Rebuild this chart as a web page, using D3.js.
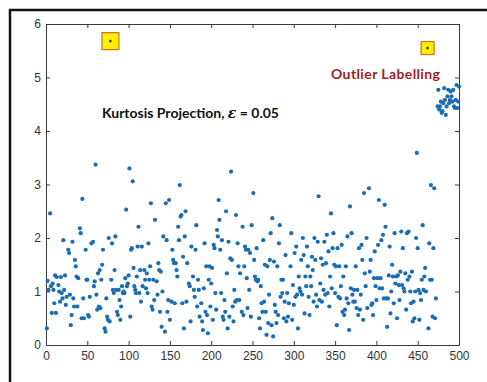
<!DOCTYPE html>
<html>
<head>
<meta charset="utf-8">
<script src="https://cdn.jsdelivr.net/npm/d3@7"></script>
<style>
  body { margin: 0; background: #fff; }
  svg { display: block; }
</style>
</head>
<body>
<script>
// values, [sample index, projection value]
const pts000 = [[1,0.31],[2,1.2],[3,1.03],[5,2.46],[6,1.1],[7,0.6],[8,1.15],[9,1.03],[10,0.78],[11,1.3],[12,0.6],[13,1.27],[15,1.12],[16,1.0],[17,0.81],[18,1.27],[19,0.97],[20,0.87],[21,1.96],[22,1.03],[23,1.3],[24,0.75],[25,0.9],[27,1.78],[28,1.72],[29,0.94],[30,0.37],[31,0.56],[32,1.93],[33,0.87],[34,0.72],[35,1.59],[36,1.47],[37,1.28],[38,0.72],[39,1.25],[41,2.18],[42,2.09],[43,0.5],[44,2.73],[45,0.87],[46,0.5],[48,1.78],[49,1.22]];
const pts050 = [[50,1.22],[51,0.56],[52,0.53],[53,0.9],[55,1.9],[57,1.93],[58,1.1],[59,1.19],[60,3.37],[61,0.94],[62,0.66],[63,1.34],[64,0.72],[65,1.4],[66,0.69],[67,1.22],[68,1.5],[69,1.78],[71,0.31],[72,0.25],[73,0.87],[74,0.53],[75,0.47],[76,2.0],[77,0.44],[79,1.22],[80,1.9],[81,1.03],[82,0.97],[83,1.4],[84,2.03],[85,1.03],[86,0.62],[87,0.56],[88,1.03],[89,0.84],[90,0.47],[91,0.72],[92,1.1],[93,0.97],[94,1.0],[95,0.97],[96,1.25],[97,2.53],[98,1.1],[99,1.15],[100,1.3]];
const pts100 = [[101,3.3],[102,0.53],[103,1.78],[104,1.81],[105,3.06],[106,1.44],[107,1.1],[108,1.03],[109,0.97],[110,1.28],[111,1.84],[112,2.21],[113,0.97],[114,1.4],[115,0.81],[116,1.84],[117,1.1],[119,1.4],[120,1.22],[121,1.06],[122,1.34],[123,0.97],[124,1.9],[125,1.22],[126,1.47],[127,2.65],[128,0.72],[129,0.66],[130,1.22],[131,0.84],[132,2.34],[134,1.19],[135,0.94],[136,1.53],[137,1.4],[138,0.62],[139,1.37],[140,0.34],[141,1.0],[142,2.03],[144,0.25],[145,2.65],[146,1.96],[147,0.62],[148,0.84],[149,2.71]];
const pts150 = [[150,0.47],[152,0.81],[153,1.78],[154,1.59],[155,1.53],[156,0.78],[157,1.53],[158,1.4],[159,1.28],[160,2.21],[161,1.96],[162,2.99],[163,2.4],[164,2.43],[165,0.78],[166,1.65],[167,0.31],[168,2.03],[169,2.5],[170,0.81],[171,1.53],[173,1.15],[174,1.1],[175,0.44],[176,1.84],[178,1.28],[179,1.03],[180,0.9],[181,1.78],[182,2.24],[183,0.72],[184,1.22],[185,1.03],[186,0.53],[188,0.78],[189,0.44],[190,0.28],[191,1.06],[192,1.9],[193,0.62],[194,1.47],[195,0.56],[196,0.22],[197,1.22],[198,1.47],[199,0.72],[200,1.15]];
const pts200 = [[201,1.44],[202,0.47],[203,1.87],[204,1.81],[205,0.97],[206,0.66],[207,2.15],[208,2.03],[209,2.71],[210,2.34],[211,1.78],[212,0.97],[213,1.96],[214,0.53],[215,0.47],[216,0.84],[217,0.62],[218,2.5],[219,1.34],[220,0.31],[221,1.93],[222,0.53],[223,1.62],[224,3.24],[225,1.59],[226,0.72],[227,0.44],[228,1.03],[229,0.81],[230,2.43],[231,0.84],[232,1.9],[233,1.47],[234,0.84],[235,1.34],[237,0.62],[238,2.21],[239,0.56],[240,1.47],[241,1.84],[242,1.78],[243,1.25],[244,0.69],[245,1.78],[246,1.03],[247,1.72],[248,0.53],[249,2.24]];
const pts250 = [[251,2.84],[252,1.59],[253,1.28],[254,1.22],[255,1.81],[256,1.19],[257,1.22],[258,0.5],[259,0.31],[260,1.1],[261,0.78],[262,0.62],[263,1.96],[264,0.81],[265,1.5],[266,0.62],[267,0.19],[268,1.47],[269,0.41],[270,0.94],[271,1.59],[272,2.09],[273,0.37],[274,2.37],[275,0.16],[276,1.56],[277,0.75],[278,0.62],[279,0.41],[280,1.47],[281,0.56],[282,1.9],[283,2.24],[284,0.9],[285,1.22],[286,0.97],[287,1.22],[288,0.5],[289,0.81],[290,1.68],[291,0.44],[292,0.97],[293,0.53],[294,0.78],[296,1.47],[297,2.09],[298,0.47],[299,1.12]];
const pts300 = [[300,0.75],[301,1.72],[302,0.9],[303,1.84],[304,0.94],[305,0.31],[306,1.28],[307,1.06],[308,1.0],[309,1.59],[310,0.94],[311,2.0],[312,1.68],[313,0.59],[314,1.28],[315,1.1],[316,1.84],[317,1.47],[318,0.9],[319,0.56],[320,1.28],[321,1.1],[322,1.65],[323,1.4],[324,0.81],[325,2.0],[326,1.59],[327,0.94],[328,0.72],[329,1.93],[330,2.78],[331,0.84],[332,1.15],[333,1.62],[334,0.81],[335,1.5],[336,1.03],[337,1.93],[338,0.94],[339,1.53],[340,2.06],[341,0.97],[342,1.75],[343,0.72],[344,1.28],[345,2.46],[346,1.06],[347,1.81],[348,2.09],[349,1.5]];
const pts350 = [[350,0.97],[351,1.47],[352,0.37],[353,1.81],[354,0.9],[355,1.47],[356,0.87],[357,1.1],[358,1.87],[359,0.62],[360,1.28],[361,0.56],[362,0.66],[363,1.47],[364,0.87],[365,2.03],[366,0.78],[367,0.28],[368,2.59],[369,1.06],[370,2.09],[371,0.94],[372,0.81],[373,1.03],[374,0.81],[375,1.47],[376,0.69],[377,1.03],[378,0.56],[379,1.81],[380,0.66],[381,0.94],[382,1.87],[383,1.59],[384,0.47],[385,2.84],[386,1.34],[387,1.1],[388,2.0],[389,0.69],[391,2.93],[392,1.37],[393,1.59],[394,0.75],[395,0.78],[396,0.56],[397,1.25],[398,1.75],[399,1.1],[400,0.84]];
const pts400 = [[401,1.25],[402,1.87],[403,2.71],[404,1.06],[405,1.25],[406,1.96],[407,1.06],[408,2.06],[409,0.87],[410,2.62],[411,2.21],[412,0.87],[413,0.34],[414,0.87],[415,1.3],[416,1.84],[417,0.59],[418,1.0],[419,1.5],[420,1.28],[421,0.78],[422,2.09],[423,1.15],[424,1.28],[425,0.5],[426,1.3],[427,1.12],[428,0.84],[429,1.37],[430,2.12],[431,1.12],[432,1.81],[433,1.06],[434,1.0],[435,1.34],[436,0.66],[437,2.09],[438,1.22],[439,2.12],[440,1.28],[441,1.0],[442,0.78],[443,1.37],[444,0.44],[445,0.81],[446,0.5],[447,1.0],[448,2.0],[449,3.59],[450,1.81]];
const pts450 = [[451,1.03],[452,0.47],[453,0.97],[454,0.84],[455,1.22],[456,2.24],[457,1.03],[458,1.28],[459,1.44],[460,1.0],[463,0.31],[464,1.9],[465,1.22],[466,2.99],[467,1.22],[468,0.53],[469,1.81],[470,2.93],[471,0.5],[472,0.87]];
const cluster = [[474,4.46],[475,4.77],[476,4.4],[477,4.46],[478,4.55],[479,4.34],[480,4.37],[481,4.52],[482,4.8],[483,4.58],[484,4.3],[485,4.46],[486,4.65],[487,4.77],[488,4.52],[489,4.58],[490,4.74],[491,4.65],[492,4.55],[493,4.77],[494,4.46],[495,4.43],[496,4.58],[497,4.86],[498,4.43],[499,4.55],[500,4.83]];
const outlierIdx = [78, 462];
const outlierVal = [5.68, 5.55];
const outlierBox = [17, 13];
const xTicks = [0, 50, 100, 150, 200, 250, 300, 350, 400, 450, 500];
const yTicks = [0, 1, 2, 3, 4, 5, 6];

const data = [].concat(pts000, pts050, pts100, pts150, pts200, pts250, pts300, pts350, pts400, pts450, cluster);
const outliers = outlierIdx.map((d, i) => ({x: d, y: outlierVal[i], s: outlierBox[i]}));

const W = 487, H = 382;
const margin = {top: 24, right: 28, bottom: 37, left: 46};
const width = W - margin.left - margin.right,
      height = H - margin.top - margin.bottom;

const svg = d3.select("body").append("svg")
  .attr("width", W)
  .attr("height", H);

// outer frame (left and top edges only visible)
svg.append("path")
  .attr("d", "M10," + H + " V10 H" + W)
  .attr("fill", "none")
  .attr("stroke", "#111")
  .attr("stroke-width", 2.5);

const g = svg.append("g")
  .attr("transform", "translate(" + margin.left + "," + margin.top + ")");

const x = d3.scaleLinear().domain([0, 500]).range([0, width]);
const y = d3.scaleLinear().domain([0, 6]).range([height, 0]);

const axisCol = "#3a3a3a";
const styleAxis = sel => {
  sel.select(".domain").attr("stroke", axisCol);
  sel.selectAll(".tick line").attr("stroke", axisCol);
  sel.selectAll(".tick text")
    .attr("fill", "#333")
    .style("font-family", "'Liberation Sans', Arial, sans-serif")
    .style("font-size", "12px");
};

g.append("g")
  .attr("transform", "translate(0," + height + ")")
  .call(d3.axisBottom(x).tickValues(xTicks).tickSize(-4).tickSizeOuter(0).tickPadding(6).tickFormat(d3.format("d")))
  .call(styleAxis);
g.append("g")
  .call(d3.axisTop(x).tickValues(xTicks).tickSize(-4).tickSizeOuter(0).tickFormat(""))
  .call(styleAxis);
g.append("g")
  .call(d3.axisLeft(y).tickValues(yTicks).tickSize(-4).tickSizeOuter(0).tickPadding(5).tickFormat(d3.format("d")))
  .call(styleAxis);
g.append("g")
  .attr("transform", "translate(" + width + ",0)")
  .call(d3.axisRight(y).tickValues(yTicks).tickSize(-4).tickSizeOuter(0).tickFormat(""))
  .call(styleAxis);

// points
g.append("g")
  .selectAll("circle")
  .data(data)
  .enter().append("circle")
  .attr("cx", d => x(d[0]))
  .attr("cy", d => y(d[1]))
  .attr("r", 2.1)
  .attr("fill", "#1b6db3");

// labelled outliers
const og = g.append("g").selectAll("g")
  .data(outliers)
  .enter().append("g")
  .attr("transform", d => "translate(" + x(d.x) + "," + y(d.y) + ")");
og.append("rect")
  .attr("x", d => -d.s / 2)
  .attr("y", d => -d.s / 2)
  .attr("width", d => d.s)
  .attr("height", d => d.s)
  .attr("fill", "#ffee00")
  .attr("stroke", "#c8742a")
  .attr("stroke-width", 1.2);
og.append("circle")
  .attr("r", 1.3)
  .attr("fill", "#0b4a2a");

// annotations
const t1 = svg.append("text")
  .attr("x", 102)
  .attr("y", 118)
  .style("font-family", "Lato, 'Open Sans', sans-serif")
  .style("font-weight", "bold")
  .style("font-size", "14px")
  .attr("fill", "#111");
t1.append("tspan").text("Kurtosis Projection,  ");
t1.append("tspan").style("font-style", "italic").style("font-family", "'DejaVu Serif', serif").text("ε");
t1.append("tspan").text(" = 0.05");

svg.append("text")
  .attr("x", 331)
  .attr("y", 79)
  .attr("textLength", 109)
  .style("font-family", "Lato, 'Open Sans', sans-serif")
  .style("font-weight", "bold")
  .style("font-size", "14px")
  .attr("fill", "#a51d1d")
  .text("Outlier Labelling");
</script>
</body>
</html>
